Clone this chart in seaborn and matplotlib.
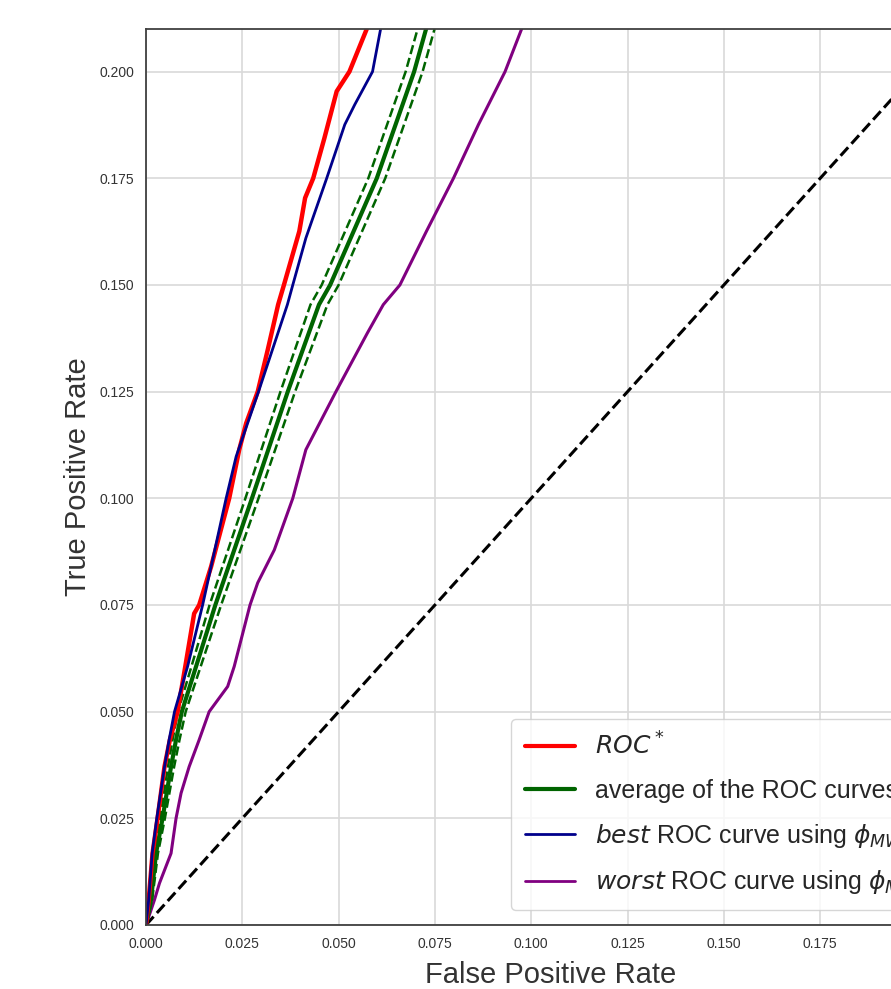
import numpy as np
import pandas as pd
import matplotlib
matplotlib.use("Agg")
import matplotlib.pyplot as plt
from matplotlib.lines import Line2D
import seaborn as sns

# ---- data ----
roc_star_fpr = [0, 0.0007, 0.0017, 0.0030, 0.0048, 0.0062, 0.0082, 0.0102, 0.0125, 0.0138, 0.0169,
                0.0216, 0.0242, 0.0260, 0.0290, 0.0316, 0.0343, 0.0358, 0.0378, 0.0398, 0.0413,
                0.0434, 0.0463, 0.0495, 0.0528, 0.0573]
roc_star_tpr = [0, 0.0059, 0.0168, 0.0250, 0.0371, 0.0434, 0.0500, 0.0606, 0.0730, 0.0750, 0.0840,
                0.1000, 0.1114, 0.1176, 0.1250, 0.1348, 0.1454, 0.1500, 0.1563, 0.1626, 0.1704,
                0.1750, 0.1844, 0.1954, 0.2000, 0.2100]

best_fpr = [0, 0.0007, 0.0016, 0.0028, 0.0048, 0.0060, 0.0074, 0.0108, 0.0147, 0.0208, 0.0234,
            0.0292, 0.0367, 0.0381, 0.0415, 0.0469, 0.0516, 0.0542, 0.0588, 0.0609]
best_tpr = [0, 0.0059, 0.0168, 0.0250, 0.0371, 0.0434, 0.0500, 0.0606, 0.0750, 0.1000, 0.1098,
            0.1250, 0.1454, 0.1500, 0.1610, 0.1750, 0.1876, 0.1923, 0.2000, 0.2100]

avg_tpr = [0, 0.0059, 0.0168, 0.0250, 0.0371, 0.0434, 0.0500, 0.0606, 0.0750, 0.1000, 0.1250,
           0.1454, 0.1500, 0.1750, 0.2000, 0.2100]
avg_fpr = [0, 0.0013, 0.0026, 0.0043, 0.0065, 0.0078, 0.0093, 0.0130, 0.0180, 0.0275, 0.0368,
           0.0449, 0.0478, 0.0599, 0.0696, 0.0727]
avg_fpr_left = [0, 0.0010, 0.0021, 0.0037, 0.0057, 0.0069, 0.0083, 0.0118, 0.0165, 0.0258, 0.0349,
                0.0427, 0.0456, 0.0577, 0.0674, 0.0705]
avg_fpr_right = [0, 0.0016, 0.0031, 0.0049, 0.0073, 0.0087, 0.0103, 0.0142, 0.0195, 0.0292, 0.0387,
                 0.0471, 0.0500, 0.0621, 0.0718, 0.0749]

worst_fpr = [0, 0.0022, 0.0035, 0.0065, 0.0078, 0.0091, 0.0112, 0.0138, 0.0164, 0.0212, 0.0229,
             0.0270, 0.0290, 0.0333, 0.0381, 0.0415, 0.0493, 0.0575, 0.0616, 0.0659, 0.0728,
             0.0798, 0.0863, 0.0932, 0.0975]
worst_tpr = [0, 0.0059, 0.0098, 0.0168, 0.0250, 0.0309, 0.0371, 0.0434, 0.0500, 0.0559, 0.0606,
             0.0750, 0.0802, 0.0879, 0.1000, 0.1114, 0.1250, 0.1388, 0.1454, 0.1500, 0.1626,
             0.1750, 0.1876, 0.2000, 0.2100]

chance = [0, 1]

labels = [r'$ROC^*$', 'average of the ROC curves',
          r'$best$ ROC curve using $\phi_{MW}$', r'$worst$ ROC curve using $\phi_{MW}$']
colors = ['red', 'darkgreen', 'darkblue', 'purple']

# ---- style ----
sns.set_style("white", {"axes.grid": True, "grid.color": ".85", "axes.edgecolor": ".2"})
plt.rcParams['font.family'] = ['Liberation Sans', 'DejaVu Sans']

fig = plt.figure(figsize=(8.91, 9.89), dpi=100)
ax = fig.add_axes([146 / 891, 64 / 989, 809 / 891, 896 / 989])

sns.lineplot(x=chance, y=chance, ax=ax, color='k', lw=2.2, linestyle='--', sort=False, estimator=None)
sns.lineplot(x=worst_fpr, y=worst_tpr, ax=ax, color=colors[3], lw=2.2, sort=False, estimator=None)
sns.lineplot(x=avg_fpr_left, y=avg_tpr, ax=ax, color=colors[1], lw=1.8, linestyle='--', sort=False, estimator=None)
sns.lineplot(x=avg_fpr_right, y=avg_tpr, ax=ax, color=colors[1], lw=1.8, linestyle='--', sort=False, estimator=None)
sns.lineplot(x=avg_fpr, y=avg_tpr, ax=ax, color=colors[1], lw=3, sort=False, estimator=None)
sns.lineplot(x=roc_star_fpr, y=roc_star_tpr, ax=ax, color=colors[0], lw=3.2, sort=False, estimator=None)
sns.lineplot(x=best_fpr, y=best_tpr, ax=ax, color=colors[2], lw=2, sort=False, estimator=None)

ax.set_xlim(0, 0.21)
ax.set_ylim(0, 0.21)
ax.set_xticks(np.arange(0, 0.201, 0.025))
ax.set_yticks(np.arange(0, 0.201, 0.025))
ax.tick_params(labelsize=10, pad=5, colors='.2')
ax.grid(True, color='.85', lw=1.2)
for s in ax.spines.values():
    s.set_visible(True)
    s.set_color('.25')
    s.set_linewidth(1.3)

ax.set_xlabel('False Positive Rate', fontsize=21, color='.2', labelpad=7)
ax.set_ylabel('True Positive Rate', fontsize=21, color='.2', labelpad=5)

handles = [Line2D([], [], color=colors[0], lw=3),
           Line2D([], [], color=colors[1], lw=3),
           Line2D([], [], color=colors[2], lw=2),
           Line2D([], [], color=colors[3], lw=2)]
leg = ax.legend(handles, labels, loc='lower left', bbox_to_anchor=(0.4512, 0.0167),
                borderaxespad=0, borderpad=0.55, fontsize=18, frameon=True, labelspacing=0.75,
                fancybox=True, edgecolor='.8', framealpha=0.8)

fig.savefig('out.png', dpi=100)
